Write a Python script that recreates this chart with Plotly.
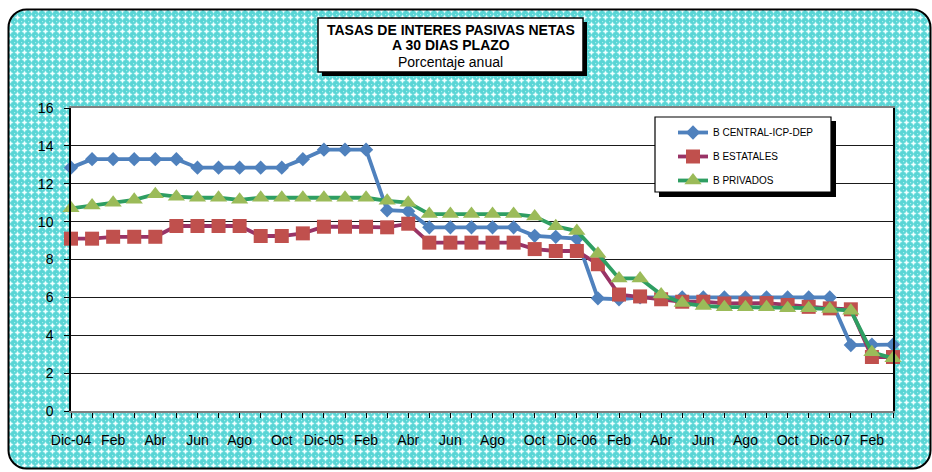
import base64
import plotly.graph_objects as go

# ---- data -------------------------------------------------------------
months = ["Ene", "Feb", "Mar", "Abr", "May", "Jun", "Jul", "Ago", "Sep", "Oct", "Nov", "Dic"]
categories = ["Dic-04"] + [f"{m}-{y:02d}" for y in (5, 6, 7) for m in months] + ["Ene-08", "Feb-08", "Mar-08"]

tick_labels = ["Dic-04", "", "Feb", "", "Abr", "", "Jun", "", "Ago", "", "Oct", "",
               "Dic-05", "", "Feb", "", "Abr", "", "Jun", "", "Ago", "", "Oct", "",
               "Dic-06", "", "Feb", "", "Abr", "", "Jun", "", "Ago", "", "Oct", "",
               "Dic-07", "", "Feb", ""]

b_central = [12.85, 13.3, 13.3, 13.3, 13.3, 13.3, 12.85, 12.85, 12.85, 12.85,
             12.85, 13.3, 13.8, 13.8, 13.8, 10.6, 10.55, 9.7, 9.7, 9.7,
             9.7, 9.7, 9.25, 9.2, 9.1, 5.95, 5.9, 6.0, 6.0, 6.0,
             6.0, 6.0, 6.0, 6.0, 6.0, 6.0, 6.0, 3.48, 3.5, 3.5]

b_estatales = [9.1, 9.1, 9.2, 9.2, 9.2, 9.77, 9.77, 9.77, 9.77, 9.24,
               9.24, 9.38, 9.73, 9.73, 9.73, 9.7, 9.89, 8.89, 8.89, 8.89,
               8.89, 8.89, 8.55, 8.45, 8.45, 7.75, 6.15, 6.05, 5.9, 5.77,
               5.77, 5.68, 5.68, 5.7, 5.6, 5.5, 5.42, 5.37, 2.85, 2.85]

b_privados = [10.7, 10.85, 11.0, 11.15, 11.45, 11.32, 11.26, 11.26, 11.15, 11.26,
              11.26, 11.26, 11.26, 11.26, 11.26, 11.1, 11.0, 10.4, 10.4, 10.4,
              10.4, 10.4, 10.27, 9.75, 9.5, 8.3, 7.0, 7.0, 6.15, 5.7,
              5.55, 5.48, 5.48, 5.48, 5.43, 5.43, 5.38, 5.3, 3.1, 2.78]

# ---- page geometry (pixels) ------------------------------------------
W, H = 932, 472
L, R, T, B = 71, 39, 108, 61
PW, PH = W - L - R, H - T - B


def px(x):
    return (x - L) / PW


def py(y):
    return (H - B - y) / PH


FONT = "Liberation Sans, Arial, sans-serif"

# patterned, rounded frame behind the whole chart
frame_svg = f'''<svg xmlns="http://www.w3.org/2000/svg" width="{W}" height="{H}" viewBox="0 0 {W} {H}">
<defs><pattern id="p" width="7" height="7" patternUnits="userSpaceOnUse">
<rect width="7" height="7" fill="#58D5D5"/>
<path d="M3.5 0.8v5.4M0.8 3.5h5.4" stroke="#C8F8F8" stroke-width="1.4"/>
<path d="M3.5 2v3M2 3.5h3" stroke="#F2FFFF" stroke-width="1.4"/>
<rect x="0" y="0" width="1.2" height="1.2" fill="#A6ECEC"/>
</pattern></defs>
<rect x="8.5" y="9.5" width="922" height="459" rx="18" ry="18" fill="url(#p)" stroke="#000" stroke-width="2"/>
</svg>'''
frame_uri = "data:image/svg+xml;base64," + base64.b64encode(frame_svg.encode()).decode()

fig = go.Figure()

series = [
    ("B CENTRAL-ICP-DEP", b_central, "#4F81BD", "#4F81BD", "diamond", 11),
    ("B ESTATALES", b_estatales, "#993366", "#C0504D", "square", 14),
    ("B PRIVADOS", b_privados, "#2E9E62", "#9BBB59", "triangle-up", 15),
]
for name, vals, lc, mc, sym, ms in series:
    fig.add_trace(go.Scatter(
        x=categories, y=vals, name=name, mode="lines+markers",
        line=dict(color=lc, width=3.8),
        marker=dict(color=mc, symbol=sym, size=ms),
        cliponaxis=False, legendgroup=name,
    ))

shapes = [
    # white plot area above the patterned frame
    dict(type="rect", xref="paper", yref="paper", x0=0, x1=1, y0=0, y1=1,
         fillcolor="white", line=dict(width=0), layer="below"),
    # title box with drop shadow
    dict(type="rect", xref="paper", yref="paper", x0=px(322), x1=px(587), y0=py(22), y1=py(76),
         fillcolor="black", line=dict(width=0), layer="above"),
    dict(type="rect", xref="paper", yref="paper", x0=px(318), x1=px(583), y0=py(18), y1=py(72),
         fillcolor="white", line=dict(color="black", width=1.5), layer="above"),
    # legend box with drop shadow
    dict(type="rect", xref="paper", yref="paper", x0=px(659), x1=px(836), y0=py(121), y1=py(197),
         fillcolor="black", line=dict(width=0), layer="above"),
    dict(type="rect", xref="paper", yref="paper", x0=px(655), x1=px(831), y0=py(117), y1=py(192),
         fillcolor="white", line=dict(color="black", width=1.2), layer="above"),
]

annotations = [
    dict(text="<b>TASAS DE INTERES PASIVAS NETAS</b>", x=px(450.5), y=py(30)),
    dict(text="<b>A 30 DIAS PLAZO</b>", x=px(450.5), y=py(45.5)),
    dict(text="Porcentaje anual", x=px(450.5), y=py(61.5)),
]
for a in annotations:
    a.update(xref="paper", yref="paper", xanchor="center", yanchor="middle",
             showarrow=False, font=dict(family=FONT, size=14, color="black"))

fig.update_layout(
    width=W, height=H, autosize=False,
    margin=dict(l=L, r=R, t=T, b=B, pad=0),
    paper_bgcolor="white", plot_bgcolor="white",
    font=dict(family=FONT, color="black"),
    images=[dict(source=frame_uri, xref="paper", yref="paper",
                 x=px(0), y=py(0), sizex=W / PW, sizey=H / PH,
                 xanchor="left", yanchor="top", sizing="stretch", layer="below")],
    shapes=shapes,
    annotations=annotations,
    showlegend=True,
    legend=dict(x=px(673), y=py(118), xanchor="left", yanchor="top",
                bgcolor="rgba(0,0,0,0)", borderwidth=0,
                font=dict(family=FONT, size=10, color="black"),
                tracegroupgap=5),
    xaxis=dict(type="category", range=[0, len(categories) - 1],
               tickmode="array", tickvals=categories, ticktext=tick_labels,
               ticks="outside", ticklen=5, tickcolor="black", tickangle=0,
               showgrid=False, showline=True, linecolor="#808080", linewidth=1.5, mirror=True,
               tickfont=dict(family=FONT, size=14, color="black"),
               ticklabelstandoff=10, zeroline=False),
    yaxis=dict(range=[0, 16], dtick=2, tick0=0,
               ticks="outside", ticklen=5, tickcolor="black",
               showgrid=True, gridcolor="#1a1a1a", gridwidth=1,
               showline=True, linecolor="black", linewidth=1.5, mirror=True,
               tickfont=dict(family=FONT, size=14, color="black"),
               ticklabelstandoff=8, zeroline=False),
)

fig.write_html("out.html")
